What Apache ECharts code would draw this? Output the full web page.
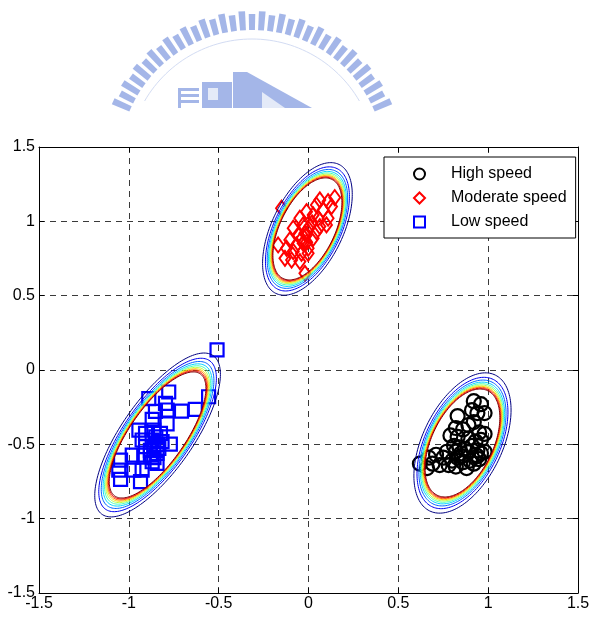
<!DOCTYPE html>
<html>
<head>
<meta charset="utf-8">
<script src="https://cdn.jsdelivr.net/npm/echarts@6/dist/echarts.min.js"></script>
<style>
  html, body { margin: 0; padding: 0; background: #fff; }
  #chart { width: 595px; height: 617px; }
</style>
</head>
<body>
<div id="chart"></div>
<script>
// Feature samples (x, y) for the three speed classes
const highSpeed = [
  [0.92,-0.21],[0.96,-0.23],[0.91,-0.27],[0.98,-0.29],[0.94,-0.29],[0.83,-0.31],
  [0.89,-0.37],[0.92,-0.35],[0.82,-0.39],[0.86,-0.40],[0.95,-0.42],[0.98,-0.43],
  [0.79,-0.44],[0.83,-0.45],[0.89,-0.46],[0.93,-0.48],[0.96,-0.47],[0.81,-0.51],
  [0.84,-0.52],[0.91,-0.51],[0.94,-0.54],[0.98,-0.55],[0.77,-0.55],[0.82,-0.55],
  [0.85,-0.56],[0.89,-0.55],[0.93,-0.57],[0.71,-0.57],[0.75,-0.59],[0.80,-0.61],
  [0.83,-0.59],[0.86,-0.62],[0.90,-0.61],[0.94,-0.58],[0.67,-0.59],[0.69,-0.63],
  [0.73,-0.64],[0.78,-0.64],[0.82,-0.65],[0.88,-0.66],[0.92,-0.63],[0.62,-0.63],
  [0.66,-0.66],[0.95,-0.60],[0.96,-0.56],[0.85,-0.58],[0.87,-0.53]
];
const moderateSpeed = [
  [0.146,1.160],[0.109,1.133],[0.063,1.144],[0.128,1.099],[0.081,1.077],[0.044,1.110],
  [0.026,1.043],[-0.011,1.065],[0.054,1.021],[0.109,1.021],[-0.048,1.021],[-0.030,0.976],
  [0.007,0.965],[0.063,0.965],[0.044,0.931],[-0.085,0.954],[-0.057,0.909],[-0.011,0.909],
  [0.026,0.886],[0.100,0.976],[-0.104,0.875],[-0.067,0.841],[-0.030,0.853],[-0.002,0.819],
  [-0.122,0.819],[-0.085,0.797],[-0.039,0.785],[-0.002,0.785],[-0.169,0.841],[-0.131,0.751],
  [-0.094,0.740],[-0.048,0.729],[-0.020,0.650],[-0.150,1.088],[-0.020,0.920],[0.000,0.950],
  [-0.040,0.880],[0.020,0.990],[-0.010,0.860]
];
const lowSpeed = [
  [-0.509,0.135],[-0.556,-0.180],[-0.630,-0.265],[-0.707,-0.276],[-0.778,-0.148],[-0.889,-0.193],
  [-0.796,-0.224],[-0.787,-0.269],[-0.852,-0.278],[-0.870,-0.332],[-0.787,-0.363],[-0.944,-0.404],
  [-0.907,-0.426],[-0.861,-0.404],[-0.824,-0.426],[-0.926,-0.471],[-0.870,-0.471],[-0.815,-0.482],
  [-0.769,-0.498],[-0.907,-0.516],[-0.861,-0.516],[-0.833,-0.527],[-0.917,-0.572],[-0.880,-0.572],
  [-0.843,-0.561],[-0.981,-0.572],[-1.046,-0.606],[-0.870,-0.617],[-0.843,-0.628],[-0.972,-0.673],
  [-1.056,-0.673],[-0.926,-0.673],[-1.046,-0.736],[-0.935,-0.751],[-0.850,-0.450],[-0.840,-0.500],
  [-0.880,-0.540],[-0.860,-0.590]
];
const seriesNames = ['High speed', 'Moderate speed', 'Low speed'];

// Gaussian fit per class: [meanX, meanY, sdX, sdY, correlation]
const classFits = [
  [0.857, -0.491, 0.208, 0.363, 0.47],
  [-0.006, 0.949, 0.192, 0.343, 0.52],
  [-0.840, -0.437, 0.269, 0.424, 0.74]
];
// Contour levels, outermost (lowest density) to innermost, as Mahalanobis radii
const contourRadii = [1.30, 1.217, 1.166, 1.128, 1.098, 1.073, 1.051, 1.032, 1.015, 1.0];
const contourColors = ['#000080','#0000F1','#0063FF','#00D4FF','#47FFB8',
                       '#B8FF47','#FFD400','#FF6300','#F10000','#800000'];

const axisMin = -1.5, axisMax = 1.5, axisStep = 0.5;

const contourData = [];
classFits.forEach((_, ci) => contourRadii.forEach((_, li) => contourData.push([ci, li])));

function renderContour(params, api) {
  const ci = api.value(0), li = api.value(1);
  const [mx, my, sx, sy, rho] = classFits[ci];
  const r = contourRadii[li];
  const k = Math.sqrt(1 - rho * rho);
  const pts = [];
  const n = 160;
  for (let i = 0; i < n; i++) {
    const t = i / n * Math.PI * 2;
    const c = Math.cos(t), s = Math.sin(t);
    pts.push(api.coord([mx + r * sx * c, my + r * sy * (rho * c + k * s)]));
  }
  return {
    type: 'polygon',
    shape: { points: pts },
    style: { fill: null, stroke: contourColors[li], lineWidth: 1 }
  };
}

// Faint institutional emblem above the plot
function emblem() {
  const color = '#A4B6E8';
  const els = [];
  const cx = 252, cy = 163;
  const count = 35;
  for (let i = 0; i < count; i++) {
    const a = (-156 + i * 132 / (count - 1)) * Math.PI / 180;
    const r0 = 133, r1 = i % 2 ? 149 : 152, hw = 0.022;
    els.push({
      type: 'polygon',
      shape: { points: [
        [cx + r0 * Math.cos(a - hw), cy + r0 * Math.sin(a - hw)],
        [cx + r1 * Math.cos(a - hw), cy + r1 * Math.sin(a - hw)],
        [cx + r1 * Math.cos(a + hw), cy + r1 * Math.sin(a + hw)],
        [cx + r0 * Math.cos(a + hw), cy + r0 * Math.sin(a + hw)]
      ] },
      style: { fill: color }
    });
  }
  const ring = [];
  for (let d = -150; d <= -30; d += 2) {
    const a = d * Math.PI / 180;
    ring.push([cx + 124 * Math.cos(a), cy + 124 * Math.sin(a)]);
  }
  els.push({ type: 'polyline', shape: { points: ring }, style: { stroke: '#D3DCF3', lineWidth: 1, fill: null } });
  // building blocks
  els.push({ type: 'rect', shape: { x: 178, y: 88, width: 3, height: 20 }, style: { fill: color } });
  [88, 94, 100].forEach(y => els.push({ type: 'rect', shape: { x: 178, y: y, width: 21, height: 3 }, style: { fill: color } }));
  els.push({ type: 'rect', shape: { x: 202, y: 82, width: 30, height: 26 }, style: { fill: color } });
  els.push({ type: 'rect', shape: { x: 208, y: 88, width: 10, height: 12 }, style: { fill: '#E4EAF8' } });
  els.push({ type: 'rect', shape: { x: 233, y: 72, width: 14, height: 36 }, style: { fill: color } });
  els.push({ type: 'polygon', shape: { points: [[247, 72], [312, 108], [247, 108]] }, style: { fill: color } });
  els.push({ type: 'polygon', shape: { points: [[262, 92], [285, 108], [262, 108]] }, style: { fill: '#E4EAF8' } });
  return els;
}

const labelFont = { fontFamily: 'Liberation Sans, Arial, sans-serif', fontSize: 16, color: '#000' };
const dashed = { color: '#3a3a3a', width: 1, type: [6, 5] };

const chart = echarts.init(document.getElementById('chart'), null, { renderer: 'canvas' });
chart.setOption({
  animation: false,
  backgroundColor: '#fff',
  grid: { left: 39, right: 17, top: 147, bottom: 24 },
  graphic: emblem(),
  legend: {
    data: seriesNames,
    orient: 'vertical',
    left: 384,
    top: 157,
    padding: [9, 9, 8, 29],
    itemGap: 8,
    itemWidth: 11,
    itemHeight: 11,
    backgroundColor: '#fff',
    borderColor: '#000',
    borderWidth: 1,
    borderRadius: 0,
    textStyle: Object.assign({}, labelFont, { padding: [0, 0, 0, 21] })
  },
  xAxis: [
    {
      type: 'value', min: axisMin, max: axisMax, interval: axisStep,
      axisLine: { onZero: false, lineStyle: { color: '#000', width: 1 } },
      axisTick: { inside: true, length: 5, lineStyle: { color: '#000' } },
      axisLabel: Object.assign({ margin: 3 }, labelFont),
      splitLine: { show: true, lineStyle: dashed }
    },
    {
      type: 'value', position: 'top', min: axisMin, max: axisMax, interval: axisStep,
      axisLine: { onZero: false, lineStyle: { color: '#000', width: 1 } },
      axisTick: { inside: true, length: 5, lineStyle: { color: '#000' } },
      axisLabel: { show: false },
      splitLine: { show: false }
    }
  ],
  yAxis: [
    {
      type: 'value', min: axisMin, max: axisMax, interval: axisStep,
      axisLine: { onZero: false, lineStyle: { color: '#000', width: 1 } },
      axisTick: { inside: true, length: 5, lineStyle: { color: '#000' } },
      axisLabel: Object.assign({ margin: 4 }, labelFont),
      splitLine: { show: true, lineStyle: dashed }
    },
    {
      type: 'value', position: 'right', min: axisMin, max: axisMax, interval: axisStep,
      axisLine: { onZero: false, lineStyle: { color: '#000', width: 1 } },
      axisTick: { inside: true, length: 5, lineStyle: { color: '#000' } },
      axisLabel: { show: false },
      splitLine: { show: false }
    }
  ],
  series: [
    {
      name: seriesNames[0], type: 'scatter', data: highSpeed, z: 3,
      symbol: 'circle', symbolSize: 14,
      itemStyle: { color: 'rgba(0,0,0,0)', borderColor: '#000', borderWidth: 2.2, opacity: 1 }
    },
    {
      name: seriesNames[1], type: 'scatter', data: moderateSpeed, z: 3,
      symbol: 'diamond', symbolSize: [11, 15],
      itemStyle: { color: 'rgba(0,0,0,0)', borderColor: '#FF0000', borderWidth: 2, opacity: 1 }
    },
    {
      name: seriesNames[2], type: 'scatter', data: lowSpeed, z: 3,
      symbol: 'rect', symbolSize: 13,
      itemStyle: { color: 'rgba(0,0,0,0)', borderColor: '#0000FF', borderWidth: 2.2, opacity: 1 }
    },
    {
      name: 'density contours', type: 'custom', data: contourData, z: 4,
      renderItem: renderContour, clip: true, silent: true
    }
  ]
});
</script>
</body>
</html>
